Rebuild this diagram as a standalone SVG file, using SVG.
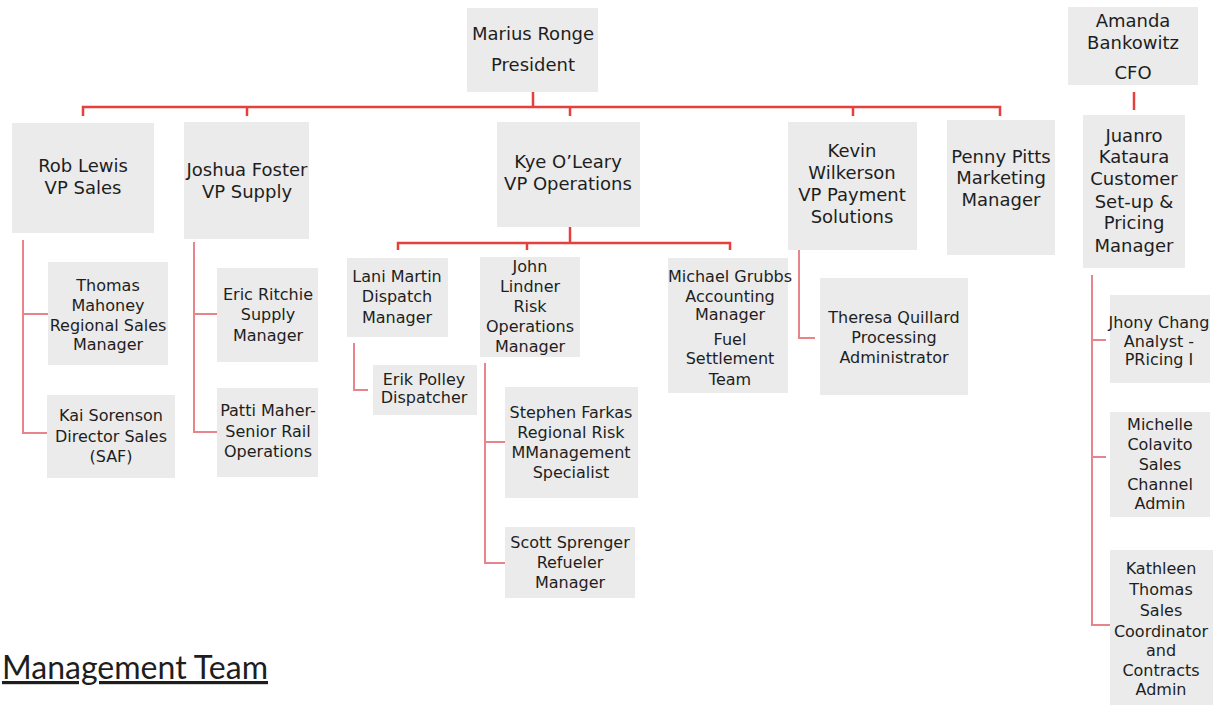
<svg xmlns="http://www.w3.org/2000/svg" width="1220" height="707" viewBox="0 0 1220 707">
<style>
  .box { fill: #ebebeb; }
  .t { font-family: "DejaVu Sans", "Liberation Sans", sans-serif; fill: #1e1e1e; text-anchor: middle; }
  .l1 { font-size: 18px; }
  .l2 { font-size: 16px; }
  .main { fill: none; stroke: #e6403c; stroke-width: 2.5; }
  .sub { fill: none; stroke: #e8848c; stroke-width: 2; }
  .title { font-family: "Lato", "Open Sans", sans-serif; font-size: 32px; fill: #1e1e1e; text-decoration: underline; }
</style>
<rect width="1220" height="707" fill="#ffffff"/>

<g id="connectors">
  <path class="main" d="M533,92 V107"/>
  <path class="main" d="M83,116 V107 H1000 V116"/>
  <path class="main" d="M247,107 V116 M570,107 V116 M853,107 V116"/>
  <path class="main" d="M1134,92 V110"/>
  <path class="main" d="M570,227 V243"/>
  <path class="main" d="M398,250 V243 H730 V250 M527,243 V250"/>
  <path class="sub" d="M23,240 V433 H47 M23,314 H48"/>
  <path class="sub" d="M194,242 V432 H217 M194,314 H217"/>
  <path class="sub" d="M354,343 V390 H368"/>
  <path class="sub" d="M485,363 V563 H505 M485,442 H505"/>
  <path class="sub" d="M799,250 V338 H815"/>
  <path class="sub" d="M1092,275 V625 H1110 M1092,340 H1106 M1092,457 H1106"/>
</g>

<g id="president">
  <rect class="box" x="467" y="8" width="131" height="84"/>
  <text class="t l1" x="533" y="40">Marius Ronge</text>
  <text class="t l1" x="533" y="71">President</text>
</g>
<g id="cfo">
  <rect class="box" x="1068" y="7" width="130" height="78"/>
  <text class="t l1" x="1133" y="27">Amanda</text>
  <text class="t l1" x="1133" y="49">Bankowitz</text>
  <text class="t l1" x="1133" y="79">CFO</text>
</g>
<g id="rob">
  <rect class="box" x="12" y="123" width="142" height="110"/>
  <text class="t l1" x="83" y="172">Rob Lewis</text>
  <text class="t l1" x="83" y="194">VP Sales</text>
</g>
<g id="joshua">
  <rect class="box" x="184" y="122" width="125" height="117"/>
  <text class="t l1" x="247" y="176">Joshua Foster</text>
  <text class="t l1" x="247" y="198">VP Supply</text>
</g>
<g id="kye">
  <rect class="box" x="497" y="122" width="143" height="105"/>
  <text class="t l1" x="568" y="168">Kye O’Leary</text>
  <text class="t l1" x="568" y="190">VP Operations</text>
</g>
<g id="kevin">
  <rect class="box" x="788" y="122" width="129" height="128"/>
  <text class="t l1" x="852" y="157">Kevin</text>
  <text class="t l1" x="852" y="179">Wilkerson</text>
  <text class="t l1" x="852" y="201">VP Payment</text>
  <text class="t l1" x="852" y="223">Solutions</text>
</g>
<g id="penny">
  <rect class="box" x="947" y="120" width="108" height="135"/>
  <text class="t l1" x="1001" y="163">Penny Pitts</text>
  <text class="t l1" x="1001" y="184">Marketing</text>
  <text class="t l1" x="1001" y="206">Manager</text>
</g>
<g id="juanro">
  <rect class="box" x="1083" y="115" width="102" height="153"/>
  <text class="t l1" x="1134" y="142">Juanro</text>
  <text class="t l1" x="1134" y="163">Kataura</text>
  <text class="t l1" x="1134" y="185">Customer</text>
  <text class="t l1" x="1134" y="208">Set-up &amp;</text>
  <text class="t l1" x="1134" y="229">Pricing</text>
  <text class="t l1" x="1134" y="252">Manager</text>
</g>
<g id="thomas">
  <rect class="box" x="48" y="262" width="120" height="103"/>
  <text class="t l2" x="108" y="291">Thomas</text>
  <text class="t l2" x="108" y="311">Mahoney</text>
  <text class="t l2" x="108" y="331">Regional Sales</text>
  <text class="t l2" x="108" y="350">Manager</text>
</g>
<g id="kai">
  <rect class="box" x="47" y="395" width="128" height="83"/>
  <text class="t l2" x="111" y="421">Kai Sorenson</text>
  <text class="t l2" x="111" y="442">Director Sales</text>
  <text class="t l2" x="111" y="462">(SAF)</text>
</g>
<g id="eric">
  <rect class="box" x="217" y="268" width="101" height="94"/>
  <text class="t l2" x="268" y="300">Eric Ritchie</text>
  <text class="t l2" x="268" y="320">Supply</text>
  <text class="t l2" x="268" y="341">Manager</text>
</g>
<g id="patti">
  <rect class="box" x="217" y="388" width="101" height="89"/>
  <text class="t l2" x="268" y="416">Patti Maher-</text>
  <text class="t l2" x="268" y="437">Senior Rail</text>
  <text class="t l2" x="268" y="457">Operations</text>
</g>
<g id="lani">
  <rect class="box" x="347" y="258" width="101" height="79"/>
  <text class="t l2" x="397" y="282">Lani Martin</text>
  <text class="t l2" x="397" y="302">Dispatch</text>
  <text class="t l2" x="397" y="323">Manager</text>
</g>
<g id="erik">
  <rect class="box" x="373" y="365" width="104" height="50"/>
  <text class="t l2" x="424" y="385">Erik Polley</text>
  <text class="t l2" x="424" y="403">Dispatcher</text>
</g>
<g id="john">
  <rect class="box" x="480" y="257" width="100" height="100"/>
  <text class="t l2" x="530" y="272">John</text>
  <text class="t l2" x="530" y="292">Lindner</text>
  <text class="t l2" x="530" y="312">Risk</text>
  <text class="t l2" x="530" y="332">Operations</text>
  <text class="t l2" x="530" y="352">Manager</text>
</g>
<g id="stephen">
  <rect class="box" x="505" y="387" width="133" height="111"/>
  <text class="t l2" x="571" y="418">Stephen Farkas</text>
  <text class="t l2" x="571" y="438">Regional Risk</text>
  <text class="t l2" x="571" y="458">MManagement</text>
  <text class="t l2" x="571" y="478">Specialist</text>
</g>
<g id="scott">
  <rect class="box" x="505" y="527" width="130" height="71"/>
  <text class="t l2" x="570" y="548">Scott Sprenger</text>
  <text class="t l2" x="570" y="568">Refueler</text>
  <text class="t l2" x="570" y="588">Manager</text>
</g>
<g id="michael">
  <rect class="box" x="668" y="258" width="120" height="135"/>
  <text class="t l2" x="730" y="282">Michael Grubbs</text>
  <text class="t l2" x="730" y="302">Accounting</text>
  <text class="t l2" x="730" y="320">Manager</text>
  <text class="t l2" x="730" y="345">Fuel</text>
  <text class="t l2" x="730" y="364">Settlement</text>
  <text class="t l2" x="730" y="385">Team</text>
</g>
<g id="theresa">
  <rect class="box" x="820" y="278" width="148" height="117"/>
  <text class="t l2" x="894" y="323">Theresa Quillard</text>
  <text class="t l2" x="894" y="343">Processing</text>
  <text class="t l2" x="894" y="363">Administrator</text>
</g>
<g id="jhony">
  <rect class="box" x="1110" y="295" width="100" height="88"/>
  <text class="t l2" x="1159" y="328">Jhony Chang</text>
  <text class="t l2" x="1159" y="347">Analyst -</text>
  <text class="t l2" x="1159" y="365">PRicing I</text>
</g>
<g id="michelle">
  <rect class="box" x="1110" y="412" width="100" height="105"/>
  <text class="t l2" x="1160" y="430">Michelle</text>
  <text class="t l2" x="1160" y="450">Colavito</text>
  <text class="t l2" x="1160" y="470">Sales</text>
  <text class="t l2" x="1160" y="490">Channel</text>
  <text class="t l2" x="1160" y="509">Admin</text>
</g>
<g id="kathleen">
  <rect class="box" x="1110" y="550" width="103" height="155"/>
  <text class="t l2" x="1161" y="574">Kathleen</text>
  <text class="t l2" x="1161" y="595">Thomas</text>
  <text class="t l2" x="1161" y="616">Sales</text>
  <text class="t l2" x="1161" y="637">Coordinator</text>
  <text class="t l2" x="1161" y="656">and</text>
  <text class="t l2" x="1161" y="676">Contracts</text>
  <text class="t l2" x="1161" y="695">Admin</text>
</g>

<text class="title" x="2" y="679" textLength="266" lengthAdjust="spacingAndGlyphs">Management Team</text>
</svg>
